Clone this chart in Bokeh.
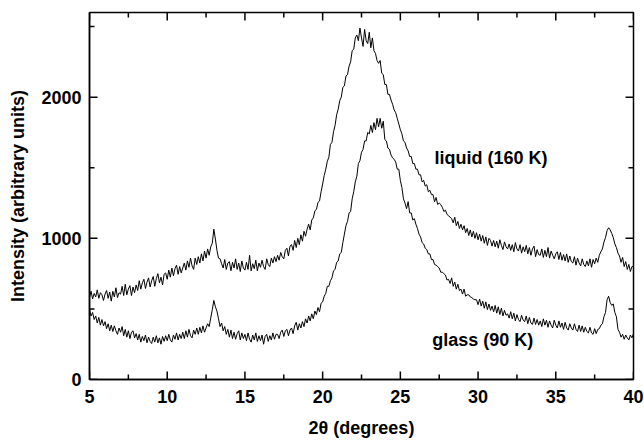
import numpy as np
from bokeh.plotting import figure
from bokeh.models import FixedTicker, Range1d, Label
from bokeh.embed import file_html
from bokeh.resources import INLINE

# scattering angle grid (degrees), 0.1 deg steps from 5 to 40
two_theta = np.round(5.0 + 0.1 * np.arange(351), 1)

# liquid (160 K) intensity
liquid = [
    580, 625, 570, 610, 585, 635, 575, 615, 600, 560,
    605, 630, 575, 620, 555, 625, 585, 650, 580, 615,
    605, 660, 595, 675, 600, 640, 665, 595, 655, 615,
    670, 630, 700, 640, 685, 710, 645, 690, 720, 655,
    700, 730, 660, 715, 750, 685, 725, 670, 745, 755,
    710, 775, 725, 790, 735, 785, 810, 745, 800, 755,
    790, 825, 775, 840, 795, 860, 805, 780, 860, 815,
    870, 825, 890, 840, 910, 860, 925, 880, 940, 965,
    1065, 995, 915, 860, 855, 820, 790, 850, 780, 825,
    835, 770, 830, 790, 855, 780, 825, 765, 840, 790,
    775, 830, 780, 880, 770, 820, 785, 845, 770, 825,
    795, 845, 800, 780, 855, 815, 800, 860, 825, 870,
    835, 880, 845, 900, 870, 855, 915, 930, 875, 945,
    955, 915, 985, 935, 1000, 955, 1025, 980, 1050, 1015,
    1065, 1100, 1060, 1130, 1145, 1195, 1205, 1255, 1265, 1330,
    1385, 1445, 1490, 1545, 1575, 1665, 1680, 1755, 1800, 1875,
    1915, 1975, 2000, 2070, 2080, 2150, 2160, 2220, 2250, 2330,
    2340, 2420, 2440, 2400, 2490, 2420, 2360, 2480, 2400, 2380,
    2460, 2350, 2420, 2330, 2310, 2260, 2240, 2260, 2170, 2160,
    2090, 2090, 2020, 2020, 1980, 1950, 1910, 1890, 1850, 1810,
    1770, 1740, 1690, 1680, 1640, 1620, 1580, 1580, 1530, 1530,
    1490, 1490, 1450, 1450, 1400, 1410, 1370, 1380, 1330, 1340,
    1310, 1310, 1260, 1290, 1240, 1250, 1240, 1220, 1190, 1200,
    1170, 1160, 1150, 1140, 1110, 1150, 1090, 1120, 1070, 1100,
    1060, 1090, 1040, 1070, 1020, 1060, 1010, 1050, 1000, 1040,
    990, 1030, 980, 1020, 965, 1010, 950, 1000, 985, 945,
    985, 940, 980, 930, 990, 950, 920, 975, 940, 925,
    960, 915, 955, 905, 970, 925, 910, 955, 895, 940,
    905, 950, 890, 935, 880, 925, 945, 870, 920, 885,
    880, 925, 865, 915, 870, 935, 860, 910, 880, 855,
    890, 905, 850, 900, 845, 885, 840, 890, 830, 875,
    835, 825, 870, 810, 860, 825, 805, 855, 815, 800,
    840, 805, 855, 795, 850, 820, 860, 830, 880, 905,
    925, 975, 1005, 1055, 1075, 1060, 1035, 1005, 960, 935,
    895, 875, 830, 865, 800, 835, 780, 815, 765, 800,
    800,
]

# glass (90 K) intensity
glass = [
    495, 450, 475, 425, 450, 400, 440, 385, 425, 380,
    410, 360, 395, 345, 385, 340, 380, 345, 320, 365,
    335, 375, 310, 355, 300, 345, 290, 335, 345, 295,
    325, 280, 320, 265, 305, 275, 315, 260, 300, 270,
    255, 300, 265, 310, 260, 295, 250, 305, 270, 310,
    275, 320, 280, 265, 315, 285, 330, 280, 320, 290,
    335, 290, 345, 300, 355, 310, 295, 350, 320, 365,
    320, 370, 330, 380, 335, 365, 395, 375, 435, 495,
    560, 515, 485, 430, 375, 400, 345, 375, 320, 355,
    300, 350, 290, 335, 285, 325, 345, 280, 330, 290,
    320, 275, 330, 285, 265, 315, 280, 330, 270, 310,
    275, 315, 250, 305, 320, 270, 310, 280, 330, 285,
    320, 320, 290, 335, 350, 305, 345, 355, 310, 350,
    365, 325, 380, 405, 350, 395, 365, 410, 375, 430,
    400, 450, 415, 465, 430, 485, 460, 510, 480, 540,
    550, 590, 610, 660, 660, 700, 720, 770, 780, 830,
    840, 890, 900, 970, 1030, 1090, 1120, 1180, 1190, 1280,
    1330, 1400, 1440, 1530, 1550, 1610, 1630, 1690, 1690, 1750,
    1740, 1800, 1750, 1820, 1770, 1850, 1790, 1850, 1780, 1830,
    1700, 1690, 1640, 1630, 1590, 1570, 1560, 1540, 1490, 1490,
    1410, 1360, 1280, 1250, 1210, 1260, 1180, 1180, 1130, 1140,
    1100, 1070, 1030, 1010, 970, 960, 930, 920, 890, 890,
    850, 850, 815, 810, 800, 790, 760, 760, 750, 740,
    705, 710, 680, 720, 660, 690, 640, 675, 630, 640,
    605, 640, 590, 600, 600, 585, 580, 570, 565, 565,
    530, 570, 520, 555, 505, 550, 495, 535, 490, 520,
    480, 525, 470, 515, 460, 505, 450, 490, 455, 465,
    435, 480, 430, 470, 415, 460, 425, 410, 455, 420,
    410, 450, 395, 440, 400, 390, 435, 390, 425, 385,
    415, 375, 430, 385, 420, 370, 415, 385, 365, 420,
    385, 365, 415, 370, 400, 355, 405, 365, 350, 395,
    365, 350, 395, 355, 340, 385, 340, 380, 335, 370,
    340, 330, 370, 330, 320, 360, 325, 355, 360, 385,
    395, 445, 475, 565, 590, 545, 525, 535, 475, 445,
    355, 335, 300, 320, 285, 315, 295, 280, 315, 295,
    325,
]

x_major = [5, 10, 15, 20, 25, 30, 35, 40]
x_minor = [7.5, 12.5, 17.5, 22.5, 27.5, 32.5, 37.5]
y_major = [0, 1000, 2000]
y_minor = [500, 1500, 2500]

X_MIN, X_MAX = 5, 40
Y_MIN, Y_MAX = 0, 2600

series_labels = ["liquid (160 K)", "glass (90 K)"]
label_x = [27.2, 27.05]
label_y = [1567, 279]

FONT = "Liberation Sans"

W, H = 644, 440
BL, BR, BT, BB = 89, 11, 12, 60
FRAME_W = W - BL - BR
FRAME_H = H - BT - BB
MAJOR_LEN, MINOR_LEN = 8, 5   # tick lengths in pixels

p = figure(width=W, height=H, output_backend="svg", toolbar_location=None,
           x_range=Range1d(X_MIN, X_MAX), y_range=Range1d(Y_MIN, Y_MAX),
           min_border_left=BL, min_border_right=BR, min_border_top=BT,
           min_border_bottom=BB)
p.grid.visible = False
p.outline_line_color = "black"
p.outline_line_width = 1.5
p.background_fill_color = "white"
p.border_fill_color = "white"

p.line(two_theta, liquid, line_color="black", line_width=1)
p.line(two_theta, glass, line_color="black", line_width=1)

# inward ticks on all four sides, drawn as short segments
px_x = (X_MAX - X_MIN) / FRAME_W
px_y = (Y_MAX - Y_MIN) / FRAME_H
for ticks, length in ((x_major, MAJOR_LEN), (x_minor, MINOR_LEN)):
    t = np.array(ticks, dtype=float)
    lo = np.full_like(t, Y_MIN)
    hi = np.full_like(t, Y_MAX)
    dy = length * px_y
    p.segment(x0=t, y0=lo, x1=t, y1=lo + dy, line_color="black", line_width=1.5)
    p.segment(x0=t, y0=hi, x1=t, y1=hi - dy, line_color="black", line_width=1.5)
for ticks, length in ((y_major, MAJOR_LEN), (y_minor, MINOR_LEN)):
    t = np.array(ticks, dtype=float)
    lo = np.full_like(t, X_MIN)
    hi = np.full_like(t, X_MAX)
    dx = length * px_x
    p.segment(x0=lo, y0=t, x1=lo + dx, y1=t, line_color="black", line_width=1.5)
    p.segment(x0=hi, y0=t, x1=hi - dx, y1=t, line_color="black", line_width=1.5)

xa = p.xaxis[0]
ya = p.yaxis[0]
xa.ticker = FixedTicker(ticks=x_major, minor_ticks=[])
ya.ticker = FixedTicker(ticks=y_major, minor_ticks=[])
for ax in (xa, ya):
    ax.axis_line_color = "black"
    ax.axis_line_width = 1.5
    ax.major_tick_in = 0
    ax.major_tick_out = 0
    ax.minor_tick_in = 0
    ax.minor_tick_out = 0
    ax.major_label_text_font = FONT
    ax.major_label_text_font_style = "bold"
    ax.major_label_text_font_size = "18px"
    ax.major_label_text_color = "black"
    ax.axis_label_text_font = FONT
    ax.axis_label_text_font_style = "bold"
    ax.axis_label_text_font_size = "18px"
    ax.axis_label_text_color = "black"

xa.major_label_standoff = 10
xa.axis_label = "2θ (degrees)"
xa.axis_label_standoff = 12
ya.major_label_standoff = 8
ya.axis_label = "Intensity (arbitrary units)"
ya.axis_label_standoff = 10

for txt, lx, ly in zip(series_labels, label_x, label_y):
    p.add_layout(Label(x=lx, y=ly, text=txt, text_font=FONT, text_font_style="bold",
                       text_font_size="18px", text_color="black",
                       text_baseline="alphabetic", text_align="left"))

open("out.html", "w").write(file_html(p, INLINE))
